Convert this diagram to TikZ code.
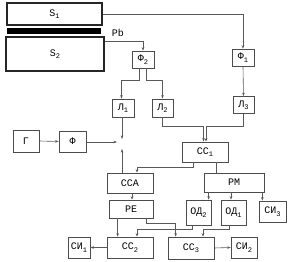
\documentclass[tikz,border=0pt]{standalone}
\usepackage{fontspec}
\setmainfont{Liberation Mono}
\usetikzlibrary{arrows.meta,calc}
\newcommand{\lo}[1]{\raisebox{-2.5pt}{\fontsize{7}{7}\selectfont#1}}

\begin{document}
\begin{tikzpicture}[x=1pt, y=-1pt,
    blk/.style={draw=black!70, line width=0.7pt, inner sep=0pt, font=\fontsize{10}{11}\selectfont},
    det/.style={blk, line width=1.4pt, draw=black!85},
    ln/.style={draw=black!65, line width=0.6pt},
    arr/.style={ln, -{Stealth[length=3.5pt,width=2.6pt]}}
]
\useasboundingbox (0,0) rectangle (295,262);

\node[det, minimum width=95pt, minimum height=22pt] (S1) at (54.5,14) {S\lo{1}};
\node[fill=black, minimum width=94pt, minimum height=6pt, inner sep=0pt] (bar) at (54,31) {};
\node[font=\fontsize{10}{11}\selectfont] (Pb) at (118,33) {Pb};
\node[det, minimum width=98pt, minimum height=34pt] (S2) at (55,54) {S\lo{2}};

\node[blk, minimum width=22pt, minimum height=17pt] (F1) at (243,57.5) {Ф\lo{1}};
\node[blk, minimum width=22pt, minimum height=17pt] (F2) at (143,59.5) {Ф\lo{2}};
\node[blk, minimum width=22pt, minimum height=18pt] (L1) at (123,108) {Л\lo{1}};
\node[blk, minimum width=21pt, minimum height=18pt] (L2) at (162.5,108) {Л\lo{2}};
\node[blk, minimum width=21pt, minimum height=17pt] (L3) at (243.5,105) {Л\lo{3}};

\node[blk, minimum width=26pt, minimum height=22pt] (G) at (26,141) {Г};
\node[blk, minimum width=27pt, minimum height=21pt] (F) at (72.5,141.5) {Ф};
\coordinate (swA) at (122,139);
\coordinate (swB) at (117,142);
\coordinate (swC) at (122,149);

\node[blk, minimum width=46pt, minimum height=20pt] (CC1) at (205,152) {СС\lo{1}};
\node[blk, minimum width=46pt, minimum height=20pt] (CCA) at (130,183) {ССА};
\node[blk, minimum width=60pt, minimum height=19pt] (PM) at (234,182.5) {РМ};
\node[blk, minimum width=44pt, minimum height=18pt] (PE) at (131,209) {РЕ};
\node[blk, minimum width=25pt, minimum height=25pt] (OD2) at (198.5,212.5) {ОД\lo{2}};
\node[blk, minimum width=25pt, minimum height=25pt] (OD1) at (233.5,212.5) {ОД\lo{1}};
\node[blk, minimum width=27pt, minimum height=21pt] (SI3) at (272.5,211.5) {СИ\lo{3}};

\node[blk, minimum width=22pt, minimum height=21pt] (SI1) at (79,247.5) {СИ\lo{1}};
\node[blk, minimum width=46pt, minimum height=21pt] (CC2) at (130,247.5) {СС\lo{2}};
\node[blk, minimum width=46pt, minimum height=22pt] (CC3) at (191,248) {СС\lo{3}};
\node[blk, minimum width=26pt, minimum height=21pt] (SI2) at (244,247.5) {СИ\lo{2}};

\draw[arr] (S1.east) -| (F1.north);
\draw[arr] ([yshift=-5pt]S2.north east) -| (F2.north);
\draw[arr] ([xshift=-4pt]F2.south) -- ++(0,12) -| ([xshift=-1.5pt]L1.north);
\draw[arr] ([xshift=3pt]F2.south) -- ++(0,12) -| (L2.north);
\draw[arr] (F1.south) -- (L3.north);
\draw[arr] (L2.south) -- ++(0,9) -| ([xshift=-1.5pt]CC1.north);
\draw[arr] (L3.south) -- ++(0,12.5) -| ([xshift=1pt]CC1.north);

\draw[arr] (G.east) -- (F.west);
\draw[arr] (L1.south -| swA) -- (swA);
\draw[arr] (F.east |- swB) -- (swB);
\draw[arr] (CCA.north -| swC) -- (swC);

\draw[arr] ([xshift=-12pt]CC1.south) -- ++(0,5) -| ([xshift=7pt]CCA.north);
\draw[ln] ([xshift=11pt]CC1.south) -- ([xshift=11pt]CC1.south |- PM.north);
\draw[arr] ([xshift=5pt]PM.south west) -- ([xshift=5pt]PM.south west |- OD2.north);
\draw[arr] ([xshift=-2.5pt]OD1.north |- PM.south) -- ([xshift=-2.5pt]OD1.north);
\draw[arr] ([xshift=-2pt]PM.south east) -- ([xshift=-2pt]PM.south east |- SI3.north);

\draw[arr] ([xshift=2pt]CCA.south) -- ([xshift=2pt]CCA.south |- PE.north);
\draw[arr] ([xshift=9pt]PE.south west) -- ([xshift=9pt]PE.south west |- CC2.north);
\draw[arr] ([xshift=-7pt]PE.south east) -- ++(0,5) -| ([xshift=8pt]CC3.north west);
\draw[arr] ([xshift=-6.5pt]OD2.south) -- ++(0,4) -| ([xshift=7pt]CC2.north);
\draw[arr] ([xshift=-4.5pt]OD1.south) -- ++(0,4) -| ([xshift=12pt]CC3.north);
\draw[arr] (CC3.east) -- (SI2.west);
\draw[arr] (CC2.west) -- (SI1.east);
\end{tikzpicture}
\end{document}
